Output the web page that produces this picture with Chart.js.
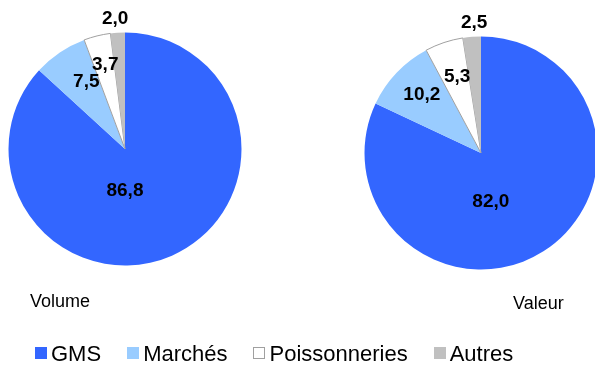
<!DOCTYPE html>
<html lang="fr">
<head>
<meta charset="utf-8">
<title>Volume / Valeur</title>
<script src="https://cdn.jsdelivr.net/npm/chart.js@4/dist/chart.umd.min.js"></script>
<style>
  html, body { margin: 0; padding: 0; background: #fff; }
  body { width: 595px; height: 365px; position: relative; overflow: hidden; font-family: "Liberation Sans", Arial, sans-serif; }
  canvas { position: absolute; left: 0; top: 0; }
  .pie-title { position: absolute; font-size: 18px; line-height: 18px; color: #000; white-space: nowrap; }
  #legend { position: absolute; left: 35px; top: 341px; font-size: 22px; line-height: 26px; white-space: nowrap; color: #000; }
  #legend .item { margin-right: 26px; }
  #legend .box { display: inline-block; width: 12px; height: 12px; margin-right: 4px; margin-bottom: 2px; box-sizing: border-box; }
</style>
</head>
<body>
<canvas id="volumeChart" width="595" height="365"></canvas>
<canvas id="valeurChart" width="620" height="365"></canvas>
<div class="pie-title" style="left:30px; top:292px;">Volume</div>
<div class="pie-title" style="left:513px; top:294px;">Valeur</div>
<div id="legend"></div>

<script>
// ============================================================================
// ------------------- Data -------------------
// ============================================================================
const categories = ['GMS', 'Marchés', 'Poissonneries', 'Autres'];
const volumeValues = [86.8, 7.5, 3.7, 2.0];
const valeurValues = [82.0, 10.2, 5.3, 2.5];

const sliceColors = ['#3366FF', '#99CCFF', '#FFFFFF', '#C0C0C0'];
const sliceBorders = ['#3366FF', '#99CCFF', '#A0A0A0', '#C0C0C0'];
const sliceBorderWidths = [0, 0, 1, 0];

// label placement per slice: [radius fraction, angle shift from mid in degrees]
const volumeLabelPos = [[0.35, 23.8], [0.67, 4.3], [0.75, 0.8], [1.13, -0.7]];
const valeurLabelPos = [[0.42, 20.8], [0.72, 1.6], [0.69, 1.3], [1.13, 1.5]];

// ------------------- Plugin: sliceLabels -------------------
// Writes the french-formatted value of each slice near its arc
const sliceLabels = {
  id: 'sliceLabels',
  afterDatasetsDraw(chart, args, opts) {
    const { ctx } = chart;
    const meta = chart.getDatasetMeta(0);
    const values = chart.data.datasets[0].data;
    ctx.save();
    ctx.font = 'bold 19px "Liberation Sans", Arial, sans-serif';
    ctx.fillStyle = '#000';
    ctx.textAlign = 'center';
    ctx.textBaseline = 'middle';
    meta.data.forEach((arc, i) => {
      const p = arc.getProps(['x', 'y', 'startAngle', 'endAngle', 'outerRadius'], true);
      const [frac, shift] = opts.positions[i];
      const a = (p.startAngle + p.endAngle) / 2 + shift * Math.PI / 180;
      const r = frac * p.outerRadius;
      const txt = values[i].toFixed(1).replace('.', ',');
      ctx.fillText(txt, p.x + Math.cos(a) * r, p.y + Math.sin(a) * r + 1);
    });
    ctx.restore();
  }
};

// ------------------- Function: createPie -------------------
function createPie(canvasId, values, padding, positions) {
  const ctx = document.getElementById(canvasId).getContext('2d');
  return new Chart(ctx, {
    type: 'pie',
    data: {
      labels: categories,
      datasets: [{
        data: values,
        backgroundColor: sliceColors,
        borderColor: sliceBorders,
        borderWidth: sliceBorderWidths
      }]
    },
    options: {
      responsive: false,
      animation: false,
      layout: { padding: padding },
      plugins: {
        legend: { display: false },
        tooltip: { enabled: false },
        sliceLabels: { positions: positions }
      }
    },
    plugins: [sliceLabels]
  });
}

createPie('volumeChart', volumeValues, { left: 8, right: 353, top: 32, bottom: 99 }, volumeLabelPos);
createPie('valeurChart', valeurValues, { left: 364, right: 22, top: 36, bottom: 95 }, valeurLabelPos);

// ------------------- Legend -------------------
const legend = document.getElementById('legend');
legend.innerHTML = categories.map((c, i) =>
  `<span class="item"><span class="box" style="background:${sliceColors[i]};${i === 2 ? 'border:1px solid #A0A0A0;' : ''}"></span>${c}</span>`
).join('');
</script>
</body>
</html>
